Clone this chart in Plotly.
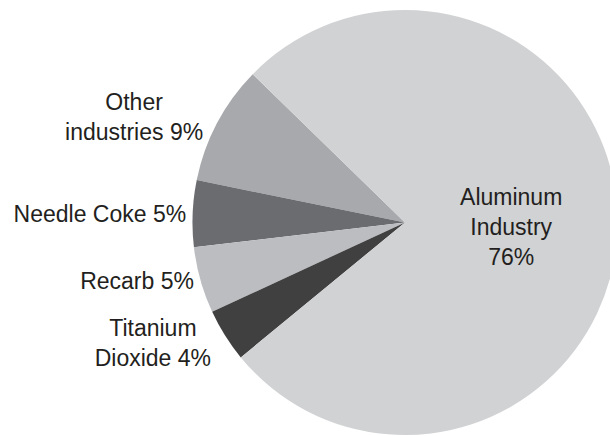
import plotly.graph_objects as go

# Graphite consumption by end use (percent)
labels = ["Other industries", "Needle Coke", "Recarb", "Titanium Dioxide", "Aluminum Industry"]
values = [9, 5, 5, 4, 76]
texts = ["Other<br>industries 9%", "Needle Coke 5%", "Recarb 5%",
         "Titanium<br>Dioxide 4%", "Aluminum<br>Industry<br>76%"]
colors = ["#a8a9ac", "#6b6c70", "#bcbdc0", "#404041", "#d1d2d4"]
positions = ["outside", "outside", "outside", "outside", "inside"]

# The figure is a little larger than the page so the pie runs off the right and bottom edges
W, H = 630, 440
CX, CY, R = 405, 224, 214  # pie centre and radius, in pixels from the top-left

fig = go.Figure(
    go.Pie(
        labels=labels,
        values=values,
        text=texts,
        textinfo="text",
        textposition=positions,
        insidetextorientation="horizontal",
        sort=False,
        direction="counterclockwise",
        rotation=-78.5,
        marker=dict(colors=colors, line=dict(width=0)),
        textfont=dict(family="Liberation Sans, Arial, sans-serif", size=23, color="#231f20"),
        domain=dict(
            x=[(CX - R) / W, (CX + R) / W],
            y=[(H - CY - R) / H, (H - CY + R) / H],
        ),
        showlegend=False,
        hoverinfo="label+percent",
    )
)

fig.update_layout(
    width=W,
    height=H,
    margin=dict(l=0, r=0, t=0, b=0),
    paper_bgcolor="white",
    plot_bgcolor="white",
    uniformtext=dict(minsize=23, mode="show"),
)

fig.write_html(
    "out.html",
    post_script=(
        "document.documentElement.style.overflow='hidden';"
        "document.body.style.overflow='hidden';"
    ),
)
